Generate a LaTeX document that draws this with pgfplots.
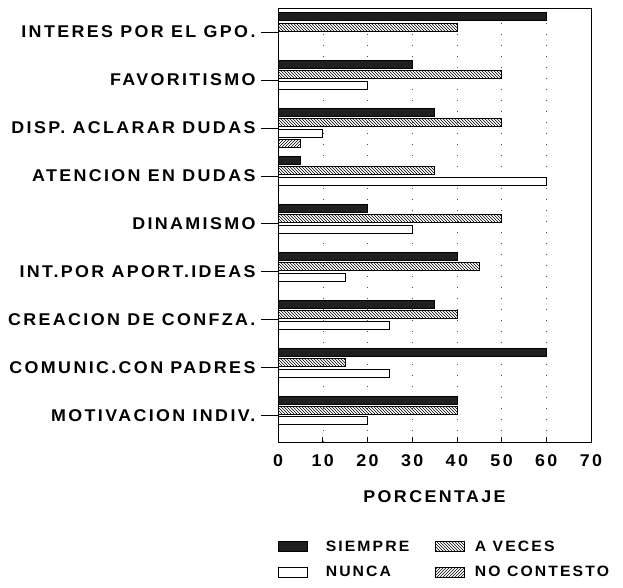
\documentclass[border=0pt]{standalone}
\usepackage{fontspec}
\setmainfont[LetterSpace=14,FakeStretch=1.05]{Liberation Sans}
\usepackage{pgfplots}
\pgfplotsset{compat=1.18}
\usetikzlibrary{patterns}
\newcommand{\lblfont}{\fontsize{17}{19}\selectfont\bfseries}
\newcommand{\legfont}{\fontsize{15}{17}\selectfont\bfseries}
\begin{document}
\begin{tikzpicture}[x=1pt,y=1pt]
\useasboundingbox (0,0) rectangle (623,588);
\begin{axis}[
  at={(278pt,146pt)}, anchor=south west,
  scale only axis, width=313pt, height=434pt,
  xbar=2.3pt, bar width=8pt,
  xmin=0, xmax=70, ymin=-0.55, ymax=8.5,
  xtick={0,10,...,70},
  ytick=\empty,
  extra y ticks={0,...,8},
  extra y tick labels={MOTIVACION INDIV.,COMUNIC.CON PADRES,CREACION DE CONFZA.,INT.POR APORT.IDEAS,DINAMISMO,ATENCION EN DUDAS,DISP. ACLARAR DUDAS,FAVORITISMO,INTERES POR EL GPO.},
  extra y tick style={major tick length=17pt, tick align=outside, ytick pos=left},
  xtick pos=bottom, ytick pos=left,
  major tick length=5pt,
  tick style={black, line width=0.6pt},
  xtick align=inside,
  /pgf/number format/assume math mode=true,
  tick label style={font=\lblfont},
  xticklabel style={yshift=-9pt},
  yticklabel style={xshift=-2pt},
  xlabel={PORCENTAJE},
  xlabel style={font=\lblfont, yshift=-17pt},
  xmajorgrids,
  major grid style={black!70, dash pattern=on 1pt off 10pt},
  axis line style={black, line width=0.7pt},
  legend columns=2,
  legend cell align=left,
  legend image code/.code={\draw[#1] (0pt,-5pt) rectangle (29pt,5pt);},
  legend style={draw=none, at={(0,-0.222)}, anchor=north west, inner sep=0pt,
    font=\legfont, row sep=10pt,
    /tikz/column 1/.append style={column sep=16pt},
    /tikz/column 2/.append style={column sep=24pt},
    /tikz/column 3/.append style={column sep=8pt}},
]
\addplot[draw=black, fill=black!88, line width=0.6pt, bar shift=15.45pt] coordinates {(40,0) (60,1) (35,2) (40,3) (20,4) (5,5) (35,6) (30,7) (60,8)};
\addplot[draw=black, pattern=north west lines, line width=0.6pt, bar shift=5.15pt] coordinates {(40,0) (15,1) (40,2) (45,3) (50,4) (35,5) (50,6) (50,7) (40,8)};
\addplot[draw=black, fill=white, line width=0.6pt, bar shift=-5.15pt] coordinates {(20,0) (25,1) (25,2) (15,3) (30,4) (60,5) (10,6) (20,7) (0,8)};
\addplot[draw=black, pattern=north east lines, line width=0.6pt, bar shift=-15.45pt] coordinates {(0,0) (0,1) (0,2) (0,3) (0,4) (0,5) (5,6) (0,7) (0,8)};
\legend{SIEMPRE, A VECES, NUNCA, NO CONTESTO}
\end{axis}
\end{tikzpicture}
\end{document}
